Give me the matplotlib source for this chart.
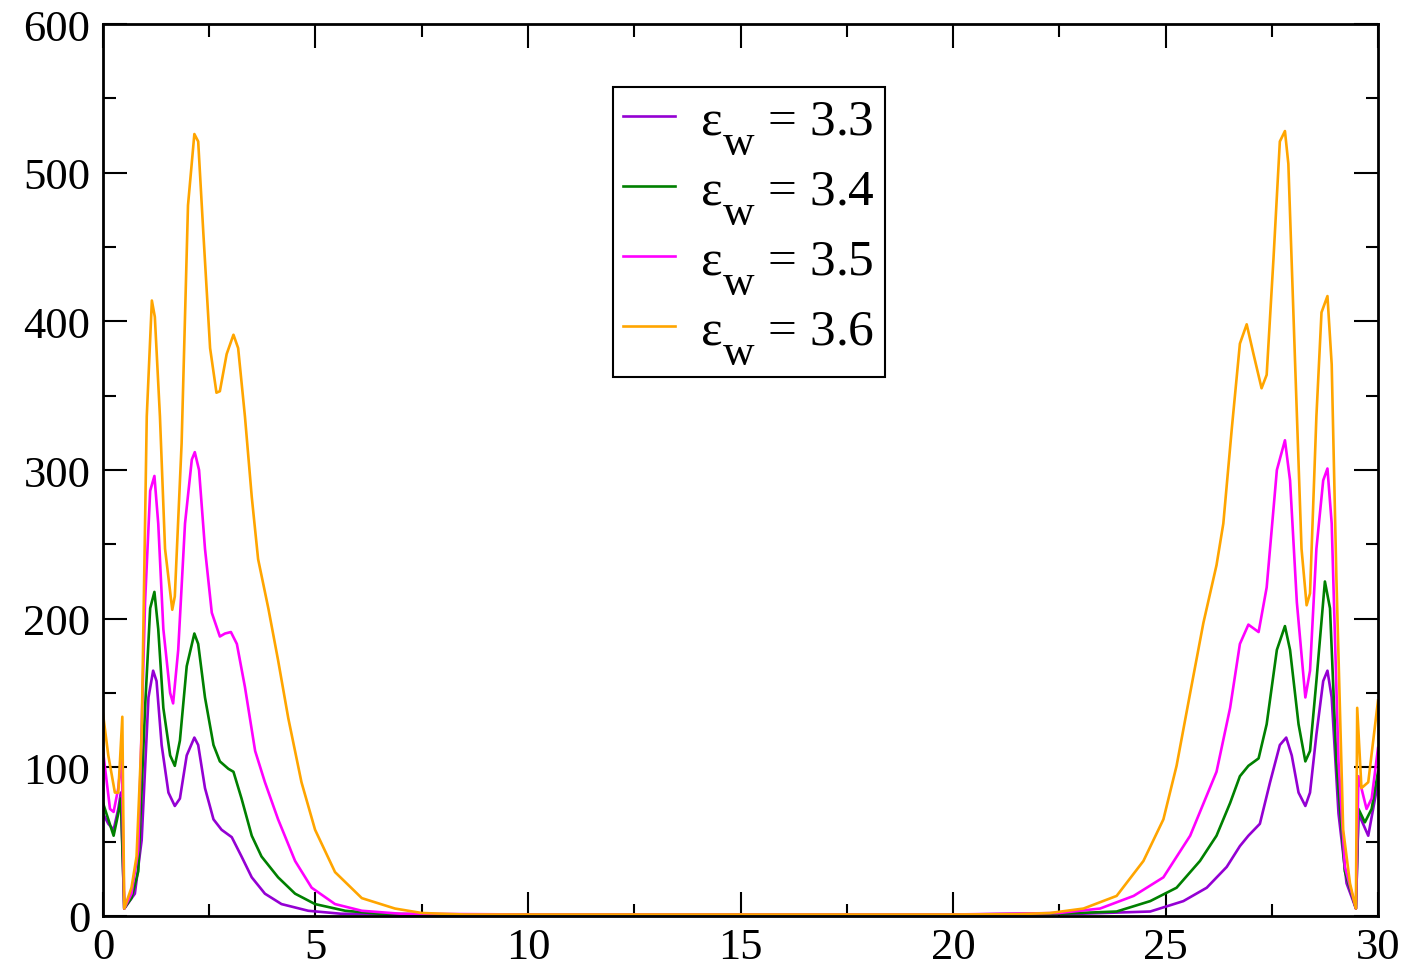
import numpy as np
import matplotlib
matplotlib.use('Agg')
import matplotlib.pyplot as plt
from matplotlib.ticker import MultipleLocator

plt.rcParams['font.family'] = ['Liberation Serif', 'DejaVu Serif']
plt.rcParams['mathtext.fontset'] = 'custom'
plt.rcParams['mathtext.rm'] = 'Liberation Serif'
plt.rcParams['mathtext.it'] = 'Liberation Serif'

# bigger, lower subscript like the original
try:
    import matplotlib._mathtext as mt
    mt.SHRINK_FACTOR = 0.85
    mt.FontConstantsBase.sub1 = 0.9
    mt.FontConstantsBase.sub2 = 0.9
except Exception:
    pass

# values
x_33 = [0, 0.125, 0.25, 0.36, 0.42, 0.5, 0.75, 0.91, 1.07, 1.18, 1.26, 1.38, 1.54, 1.69, 1.81, 1.97,
        2.15, 2.24, 2.4, 2.6, 2.79, 3.03, 3.26, 3.5, 3.81, 4.2, 4.83, 5.6, 7, 10, 15, 20, 23,
        24.64, 25.42, 25.97, 26.44, 26.75, 26.95, 27.22, 27.46, 27.69, 27.84, 27.97, 28.13, 28.29,
        28.4, 28.55, 28.71, 28.81, 28.91, 29.07, 29.26, 29.48, 29.54, 29.77, 30]
y_33 = [69, 62, 58, 72, 83, 5, 15, 51, 147, 165, 158, 115, 83, 74, 79, 108,
        120, 115, 86, 65, 58, 53, 40, 26, 15, 8, 3.5, 1.5, 1, 1, 1, 1, 1.5,
        3, 10, 19, 33, 47, 54, 62, 90, 115, 120, 108, 83, 74,
        83, 122, 158, 165, 147, 69, 22, 5, 69, 54, 90]

x_34 = [0, 0.125, 0.25, 0.36, 0.42, 0.5, 0.67, 0.83, 0.99, 1.11, 1.21, 1.3, 1.42, 1.58, 1.69, 1.81,
        1.97, 2.15, 2.24, 2.4, 2.6, 2.75, 2.95, 3.07, 3.26, 3.5, 3.73, 4.12, 4.52, 4.99, 5.7, 6.5,
        8, 10, 15, 20, 22.5, 23.85, 24.64, 25.26, 25.81, 26.2, 26.52, 26.75, 26.95, 27.19, 27.38,
        27.62, 27.81, 27.93, 28.13, 28.29, 28.4, 28.55, 28.75, 28.87, 29.02, 29.22, 29.48, 29.54,
        29.69, 29.85, 30]
y_34 = [76, 65, 54, 69, 79, 5, 12, 30, 140, 207, 218, 193, 140, 108, 101, 118,
        168, 190, 183, 147, 115, 104, 99, 97, 79, 54, 40, 26, 15, 8, 3.5, 1.5,
        1, 1, 1, 1, 1.5, 3, 10, 19, 37, 54, 76, 94, 101, 106, 129,
        179, 195, 179, 129, 104, 111, 158, 225, 207, 104, 30, 5, 72,
        63, 72, 97]

x_35 = [0, 0.165, 0.25, 0.36, 0.44, 0.5, 0.67, 0.83, 0.99, 1.11, 1.21, 1.3, 1.42, 1.58, 1.65, 1.77,
        1.93, 2.09, 2.16, 2.26, 2.4, 2.56, 2.75, 2.87, 3.01, 3.15, 3.34, 3.58, 3.81, 4.12, 4.52,
        4.91, 5.46, 6.09, 7, 10, 15, 20, 22.5, 23.46, 24.25, 24.95, 25.58, 26.2, 26.52, 26.75,
        26.95, 27.19, 27.38, 27.62, 27.81, 27.93, 28.09, 28.29, 28.4, 28.55, 28.71, 28.81, 28.91,
        29.07, 29.22, 29.48, 29.54, 29.73, 29.85, 30]
y_35 = [111, 72, 70, 86, 108, 5, 15, 44, 211, 286, 296, 264, 193, 150, 143, 179,
        264, 307, 312, 300, 247, 204, 188, 190, 191, 183, 154, 111, 90, 65, 37,
        19, 8, 3.5, 1.5, 1, 1, 1, 2, 5, 13.5, 26, 54, 97, 140, 183,
        196, 191, 221, 300, 320, 293, 211, 147, 165, 247, 293, 301, 264,
        104, 33, 5, 94, 72, 79, 113]

x_36 = [0, 0.125, 0.28, 0.36, 0.455, 0.5, 0.67, 0.79, 0.91, 1.03, 1.15, 1.22, 1.34, 1.46, 1.63, 1.69,
        1.85, 2.0, 2.15, 2.24, 2.36, 2.52, 2.67, 2.75, 2.91, 3.07, 3.18, 3.34, 3.5, 3.65, 3.89,
        4.12, 4.36, 4.67, 4.99, 5.46, 6.09, 6.87, 7.5, 8.5, 10, 15, 20, 21.5, 22.28, 23.07, 23.85,
        24.48, 24.95, 25.26, 25.58, 25.89, 26.2, 26.36, 26.56, 26.75, 26.91, 27.07, 27.26, 27.38,
        27.54, 27.69, 27.81, 27.89, 28.05, 28.2, 28.32, 28.4, 28.55, 28.67, 28.81, 28.91, 29.02,
        29.18, 29.34, 29.48, 29.51, 29.61, 29.77, 30]
y_36 = [136, 108, 83, 83, 134, 5, 19, 40, 122, 336, 414, 403, 336, 247, 206, 215,
        318, 478, 526, 521, 460, 382, 352, 353, 378, 391, 382, 336, 282, 240, 207,
        172, 133, 90, 58, 29.5, 12, 5, 2, 1, 1, 1, 1, 1.2, 2, 5, 13.5,
        37, 65, 101, 150, 197, 236, 264, 328, 385, 398, 378, 355, 364,
        442, 521, 528, 506, 371, 247, 209, 217, 336, 406, 417, 371, 228,
        58, 22, 5, 140, 86, 90, 145]

labels = [r'$\mathrm{ε}_\mathrm{w}$ = 3.3', r'$\mathrm{ε}_\mathrm{w}$ = 3.4',
          r'$\mathrm{ε}_\mathrm{w}$ = 3.5', r'$\mathrm{ε}_\mathrm{w}$ = 3.6']
colors = ['#9400d3', '#008000', '#ff00ff', '#ffa500']

fig = plt.figure(figsize=(14.05, 9.78), dpi=100)
ax = fig.add_axes([0.0733, 0.0624, 0.9075, 0.912])

for xs, ys, lab, c in zip([x_33, x_34, x_35, x_36], [y_33, y_34, y_35, y_36], labels, colors):
    ax.plot(xs, ys, color=c, lw=1.9, label=lab)

ax.set_xlim(0, 30)
ax.set_ylim(0, 600)
ax.xaxis.set_major_locator(MultipleLocator(5))
ax.xaxis.set_minor_locator(MultipleLocator(2.5))
ax.yaxis.set_major_locator(MultipleLocator(100))
ax.yaxis.set_minor_locator(MultipleLocator(50))
ax.tick_params(which='both', direction='in', top=True, right=True, width=1.5, labelsize=32)
ax.tick_params(which='major', length=17)
ax.tick_params(which='minor', length=9)
ax.tick_params(axis='x', pad=8)
ax.tick_params(axis='y', pad=9)
for s in ax.spines.values():
    s.set_linewidth(2)

leg = ax.legend(loc='upper left', bbox_to_anchor=(0.4, 0.929), fontsize=37, frameon=True,
                fancybox=False, edgecolor='black', framealpha=1, handlelength=1.0,
                handletextpad=0.5, labelspacing=0.22, borderpad=0.2, borderaxespad=0)
leg.get_frame().set_linewidth(1.5)

plt.savefig('out.png', dpi=100)
plt.close()
